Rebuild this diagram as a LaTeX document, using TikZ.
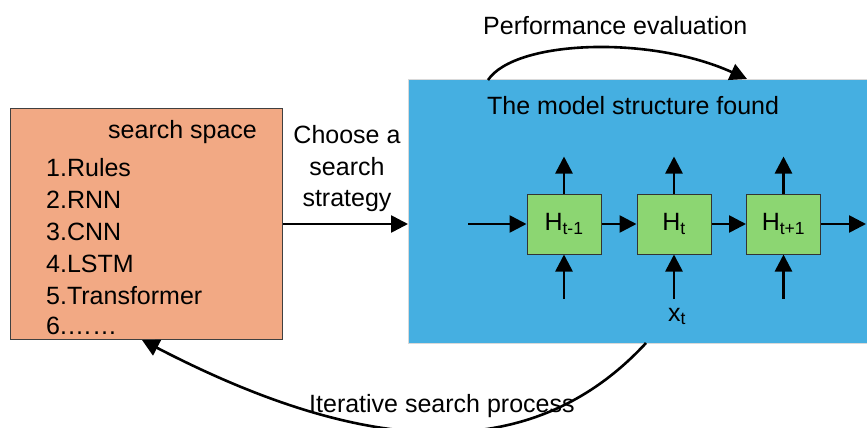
\documentclass[tikz,border=0pt]{standalone}
\usepackage{fontspec}
\setmainfont{Liberation Sans}
\usetikzlibrary{arrows.meta,calc}
\definecolor{spaceorange}{RGB}{242,169,132}
\definecolor{modelblue}{RGB}{69,175,225}
\definecolor{cellgreen}{RGB}{140,214,114}
\begin{document}
\begin{tikzpicture}[x=1pt,y=-1pt,
  lbl/.style={font=\fontsize{25}{30}\selectfont, inner sep=0pt, anchor=base west},
  clbl/.style={font=\fontsize{25}{30}\selectfont, inner sep=0pt, anchor=base},
  arr/.style={line width=2.6pt, -{Triangle[length=17pt,width=17pt]}},
  cell/.style={draw=black!80, line width=1pt, fill=cellgreen, minimum width=74pt,
    minimum height=60pt, inner sep=0pt, font=\fontsize{25}{30}\selectfont}]
\useasboundingbox (0,0) rectangle (867,428);

% the two main blocks
\node[draw=black!75, fill=spaceorange, line width=1pt, minimum width=272pt,
  minimum height=231pt, anchor=north west, inner sep=0pt] (space) at (10,108) {};
\node[draw=black!15, fill=modelblue, line width=1pt, minimum width=462pt,
  minimum height=264pt, anchor=north west, inner sep=0pt] (model) at (408,79) {};

% search space contents
\node[lbl] (spacetitle) at (108,138) {search space};
\node[lbl] (item1) at (46,176) {1.Rules};
\node[lbl] (item2) at (46,208) {2.RNN};
\node[lbl] (item3) at (46,240) {3.CNN};
\node[lbl] (item4) at (46,272) {4.LSTM};
\node[lbl] (item5) at (46,304) {5.Transformer};
\node[lbl] (item6) at (46,334) {6.……};

% search strategy
\node[clbl] (choose1) at (347,143) {Choose a};
\node[clbl] (choose2) at (347,175) {search};
\node[clbl] (choose3) at (347,206) {strategy};
\draw[arr] (space.east) -- (space.east -| model.west);

% model found
\node[lbl] (modeltitle) at (487,114) {The model structure found};
\node[cell] (h1) at (564,224) {H\textsubscript{t-1}};
\node[cell] (h2) at (674,224) {H\textsubscript{t}};
\node[cell] (h3) at (783.5,224) {H\textsubscript{t+1}};

\coordinate (inL) at (468,224);
\coordinate (outR) at (866,224);
\draw[arr] (inL) -- (h1);
\draw[arr] (h1) -- (h2);
\draw[arr] (h2) -- (h3);
\draw[arr] (h3) -- (outR);

\foreach \c in {h1,h2,h3}{
  \coordinate (\c up) at ($(\c.north)+(0,-37)$);
  \coordinate (\c in) at ($(\c.south)+(0,44)$);
  \draw[arr] (\c.north) -- (\c up);
  \draw[arr] (\c in) -- (\c.south);
}
\node[clbl] (xt) at (677,321) {x\textsubscript{t}};

% performance evaluation loop
\coordinate (pe0) at (488,80);
\coordinate (pe1) at (747,79);
\draw[arr] (pe0) .. controls (515,40) and (650,35) .. (pe1);
\node[lbl] (perf) at (483,35) {Performance evaluation};

% iterative search loop
\coordinate (ib0) at (646,343);
\coordinate (ib1) at (142,340);
\draw[arr] (ib0) .. controls (536,462) and (375,461) .. (ib1);
\node[lbl] (iter) at (309,412) {Iterative search process};
\end{tikzpicture}
\end{document}
